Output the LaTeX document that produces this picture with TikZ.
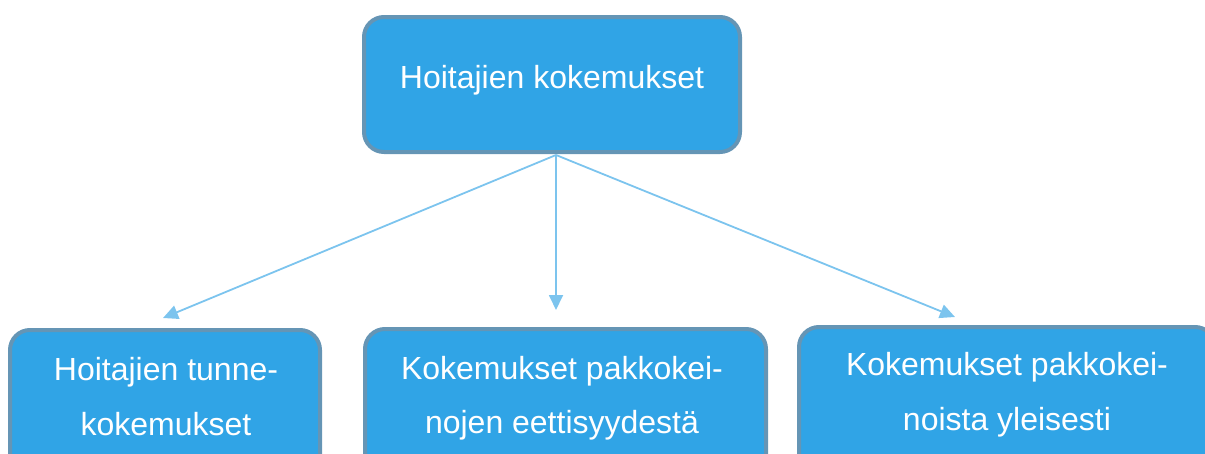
\documentclass[tikz,border=0pt]{standalone}
\usepackage{fontspec}
\setmainfont{Liberation Sans}
\usetikzlibrary{arrows.meta}
\definecolor{boxfill}{HTML}{30A4E6}
\definecolor{boxline}{HTML}{6595B5}
\definecolor{arrowc}{HTML}{7CC4EE}
\begin{document}
\begin{tikzpicture}[x=1pt,y=-1pt,
  box/.style={draw=boxline, fill=boxfill, line width=4pt, rounded corners=20pt,
    anchor=north west, inner sep=0pt, outer sep=0pt},
  lbl/.style={text=white, font=\fontsize{32}{55}\selectfont, align=center, inner sep=0pt, anchor=base},
  conn/.style={draw=arrowc, line width=1.8pt, -{Triangle[length=15pt,width=14pt]}}]
\useasboundingbox (0,0) rectangle (1205,453);
\clip (0,0) rectangle (1205,453);
\node[box, minimum width=376pt, minimum height=135pt] (top) at (364,17) {};
\node[box, minimum width=310pt, minimum height=160pt] (n1) at (10,330) {};
\node[box, minimum width=401pt, minimum height=160pt] (n2) at (365,329) {};
\node[box, minimum width=416pt, minimum height=160pt] (n3) at (799,327) {};
\node[lbl] (ttop) at (552,88) {Hoitajien kokemukset};
\node[lbl] (t1a) at (166,380) {Hoitajien tunne-};
\node[lbl] (t1b) at (166,435) {kokemukset};
\node[lbl] (t2a) at (562,379) {Kokemukset pakkokei-};
\node[lbl] (t2b) at (562,433) {nojen eettisyydestä};
\node[lbl] (t3a) at (1007,375) {Kokemukset pakkokei-};
\node[lbl] (t3b) at (1007,430) {noista yleisesti};
\coordinate (src) at (556,155);
\coordinate (e1) at (163,318);
\coordinate (e2) at (556,310);
\coordinate (e3) at (955,317);
\draw[conn] (src) -- (e1);
\draw[conn] (src) -- (e2);
\draw[conn] (src) -- (e3);
\end{tikzpicture}
\end{document}
